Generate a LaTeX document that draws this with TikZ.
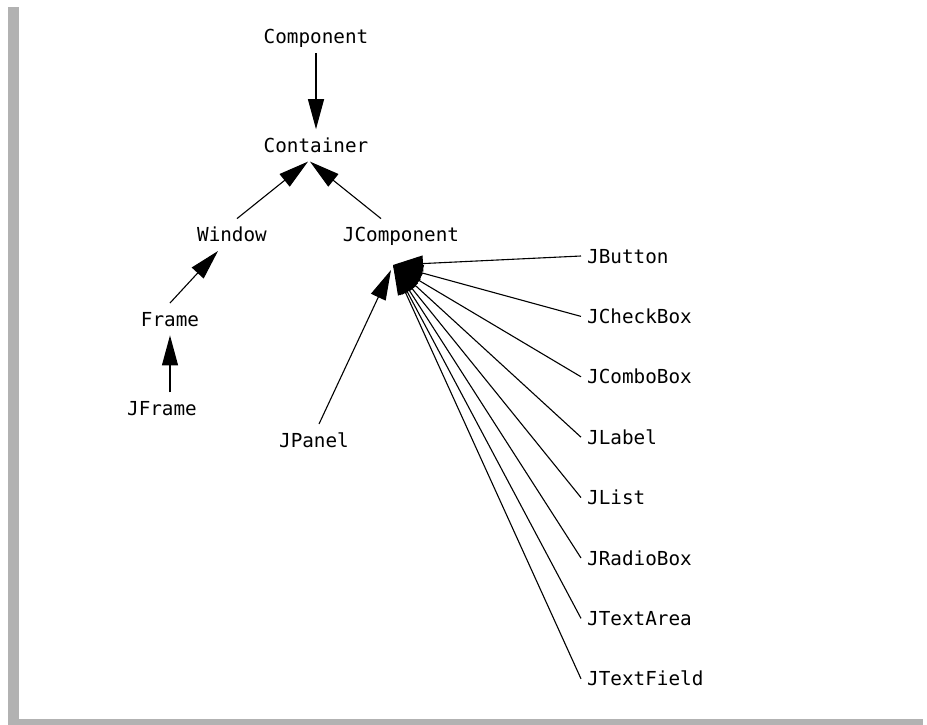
\documentclass[tikz,border=0pt]{standalone}
\usepackage{fontspec}
\setmonofont{DejaVu Sans Mono}
\usetikzlibrary{arrows.meta,positioning}
\definecolor{framegray}{RGB}{178,178,178}

\begin{document}
\begin{tikzpicture}[
  x=1pt, y=-1pt,
  cls/.style={
    inner xsep=0pt, inner ysep=9pt, text height=14pt, text depth=0pt,
    font=\ttfamily\fontsize{19.3}{23}\selectfont
  },
  inh/.style={-{Triangle[length=30pt,width=16pt]}, line width=1.1pt}
]
  \useasboundingbox (0,0) rectangle (927,725);
  % frame
  \fill[framegray] (8,7) rectangle (19,725);
  \fill[framegray] (8,719) rectangle (923,725);

  % tree
  \node[cls] (comp) at (316,37) {Component};
  \node[cls, below=76pt of comp] (cont) {Container};
  \node[cls, below=57pt of cont, xshift=-84pt] (win) {Window};
  \node[cls, below=57pt of cont, xshift=85pt] (jcomp) {JComponent};
  \node[cls, below=52pt of win, xshift=-62pt] (frame) {Frame};
  \node[cls, below=57pt of frame, xshift=-8pt] (jframe) {JFrame};
  \node[cls, below=173pt of jcomp, xshift=-87pt] (jpanel) {JPanel};

  \draw[inh] (comp) -- (cont);
  \draw[inh] ([xshift=5pt]win.north) -- ([xshift=-8pt]cont.south);
  \draw[inh] ([xshift=-20pt]jcomp.north) -- ([xshift=-6pt]cont.south);
  \draw[inh] (frame.north) -- ([xshift=-14pt]win.south);
  \draw[inh] (jframe.north -| frame.south) -- (frame.south);
  \draw[inh] ([xshift=5pt]jpanel.north) -- ([shift={(-10,19)}]jcomp.south);

  % swing components
  \coordinate (fan) at ([shift={(-8,14)}]jcomp.south);
  \foreach \name [count=\i from 0] in
      {JButton,JCheckBox,JComboBox,JLabel,JList,JRadioBox,JTextArea,JTextField} {
    \node[cls, anchor=west] (sw\i) at (587,256+60.4*\i) {\name};
    \draw[inh] ([xshift=-6pt]sw\i.west) -- (fan);
  }
\end{tikzpicture}
\end{document}
